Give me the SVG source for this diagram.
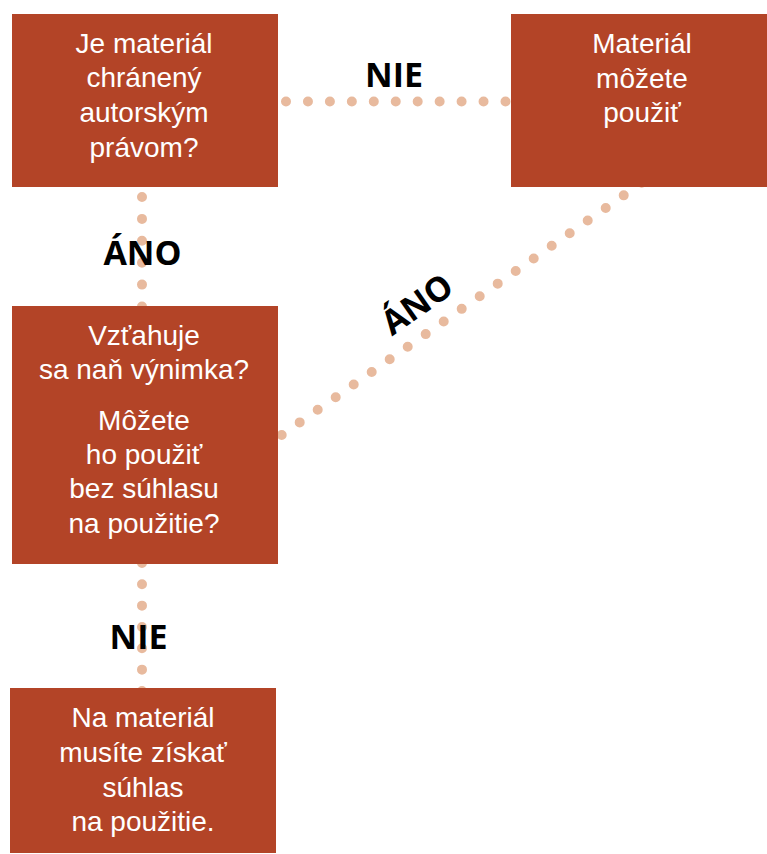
<svg xmlns="http://www.w3.org/2000/svg" width="767" height="854" viewBox="0 0 767 854">
<style>
.box{fill:#B34427;}
.t{font-family:"Liberation Sans",Arial,sans-serif;font-size:28px;fill:#ffffff;text-anchor:middle;}
.lbl{font-family:"Open Sans","Liberation Sans",sans-serif;font-weight:bold;font-size:34px;fill:#000000;text-anchor:middle;}
.dot{stroke:#E8BA9E;stroke-width:10;stroke-linecap:round;fill:none;}
</style>
<rect width="767" height="854" fill="#ffffff"/>
<g id="connectors">
<line class="dot" x1="286" y1="101.5" x2="506" y2="101.5" stroke-dasharray="0 21.95"/>
<line class="dot" x1="142" y1="197" x2="142" y2="307" stroke-dasharray="0 21.9"/>
<line class="dot" x1="142" y1="563" x2="142" y2="692" stroke-dasharray="0 21.33"/>
<line class="dot" x1="281.7" y1="435" x2="642.2" y2="182.4" stroke-dasharray="0 21.98"/>
<text class="lbl" x="394" y="87">NIE</text>
<text class="lbl" x="142.5" y="265">ÁNO</text>
<text class="lbl" x="138.5" y="649">NIE</text>
<text class="lbl" transform="translate(424,314) rotate(-35)" x="0" y="0">ÁNO</text>
</g>
<g id="node-chraneny">
<rect class="box" x="12" y="14" width="266" height="173"/>
<text class="t" x="144" y="53">Je materiál</text>
<text class="t" x="144" y="87">chránený</text>
<text class="t" x="144" y="122">autorským</text>
<text class="t" x="144" y="157">právom?</text>
</g>
<g id="node-mozete">
<rect class="box" x="511" y="14" width="256" height="173"/>
<text class="t" x="642" y="53">Materiál</text>
<text class="t" x="642" y="88">môžete</text>
<text class="t" x="642" y="122">použiť</text>
</g>
<g id="node-vynimka">
<rect class="box" x="12" y="306" width="266" height="258"/>
<text class="t" x="144" y="345">Vzťahuje</text>
<text class="t" x="144" y="379">sa naň výnimka?</text>
<text class="t" x="144" y="430">Môžete</text>
<text class="t" x="144" y="464">ho použiť</text>
<text class="t" x="144" y="498">bez súhlasu</text>
<text class="t" x="144" y="533">na použitie?</text>
</g>
<g id="node-suhlas">
<rect class="box" x="10" y="688" width="266" height="165"/>
<text class="t" x="143" y="727">Na materiál</text>
<text class="t" x="143" y="762">musíte získať</text>
<text class="t" x="143" y="797">súhlas</text>
<text class="t" x="143" y="831">na použitie.</text>
</g>
</svg>
